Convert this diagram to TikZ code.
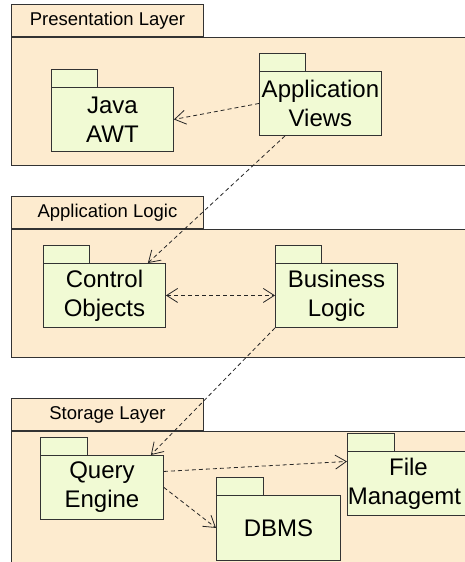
\documentclass[tikz,border=0pt]{standalone}
\usepackage{fontspec}
\setmainfont{Liberation Sans}
\usetikzlibrary{arrows.meta,calc}

\definecolor{layerfill}{HTML}{FDEBCF}
\definecolor{pkgfill}{HTML}{F1FAD4}
\definecolor{edge}{HTML}{333333}

\tikzset{
  layertab/.style={draw=edge, fill=layerfill, line width=0.9pt, anchor=south west,
    minimum width=192pt, minimum height=32pt, inner sep=0pt,
    font=\fontsize{18.5}{22}\selectfont},
  layerbody/.style={draw=edge, fill=layerfill, line width=0.9pt, anchor=north west,
    minimum width=459pt, inner sep=0pt},
  pkgbody/.style={draw=edge, fill=pkgfill, line width=0.9pt, anchor=north west,
    minimum width=122pt, minimum height=64pt, inner sep=0pt, align=center,
    font=\fontsize{24}{29}\selectfont},
  pkgtab/.style={draw=edge, fill=pkgfill, line width=0.9pt},
  barb/.tip={Straight Barb[length=11pt,width=14pt,line width=0.8pt]},
  dep/.style={draw=black!85, line width=0.8pt, dash pattern=on 4pt off 3pt, -barb},
  bidep/.style={dep, barb-barb}
}

% a package: body node plus its small tab on the upper left
% #1 extra options, #2 name, #3 top-left corner, #4 text, #5 tab width
\newcommand{\umlpkg}[5][]{%
  \node[pkgbody,#1] (#2) at (#3) {#4};
  \draw[pkgtab] (#2.north west) rectangle ++(#5,-18);%
}

\begin{document}
\begin{tikzpicture}[x=1pt,y=-1pt]
\useasboundingbox (0,0) rectangle (465,562);
\fill[white] (0,0) rectangle (465,562);

% layers
\node[layertab] (presTab) at (11,37) {Presentation Layer};
\node[layerbody, minimum height=128pt] (pres) at (11,37) {};

\node[layertab] (logicTab) at (11,229) {Application Logic};
\node[layerbody, minimum height=128pt] (logic) at (11,229) {};

\node[layertab] (storeTab) at (11,431) {Storage Layer};
\node[layerbody, minimum height=150pt] (store) at (11,431) {};

% packages
\umlpkg{java}{51,87}{Java\\AWT}{46}
\umlpkg{views}{259,71}{Application\\Views}{46}
\umlpkg{control}{43,263}{Control\\Objects}{46}
\umlpkg{business}{275,263}{Business\\Logic}{46}
\umlpkg[minimum width=123pt]{query}{40,455}{Query\\Engine}{47}
\umlpkg[minimum width=124pt, minimum height=65pt]{dbms}{216,495}{DBMS}{47}
\umlpkg{file}{347,451}{File\\Managemt\hspace*{8pt}}{47}

% dependencies
\draw[dep] (views.west) -- (java.east);
\draw[dep] ([xshift=26pt]views.south west) -- ([xshift=-18pt]control.north east);
\draw[bidep] (control.east) -- (business.west);
\draw[dep] (business.south west) -- ([xshift=-13pt]query.north east);
\draw[dep] ([yshift=16pt]query.east) -- ([yshift=22pt]file.west);
\draw[dep] (query.east) -- (dbms.west);
\end{tikzpicture}
\end{document}
